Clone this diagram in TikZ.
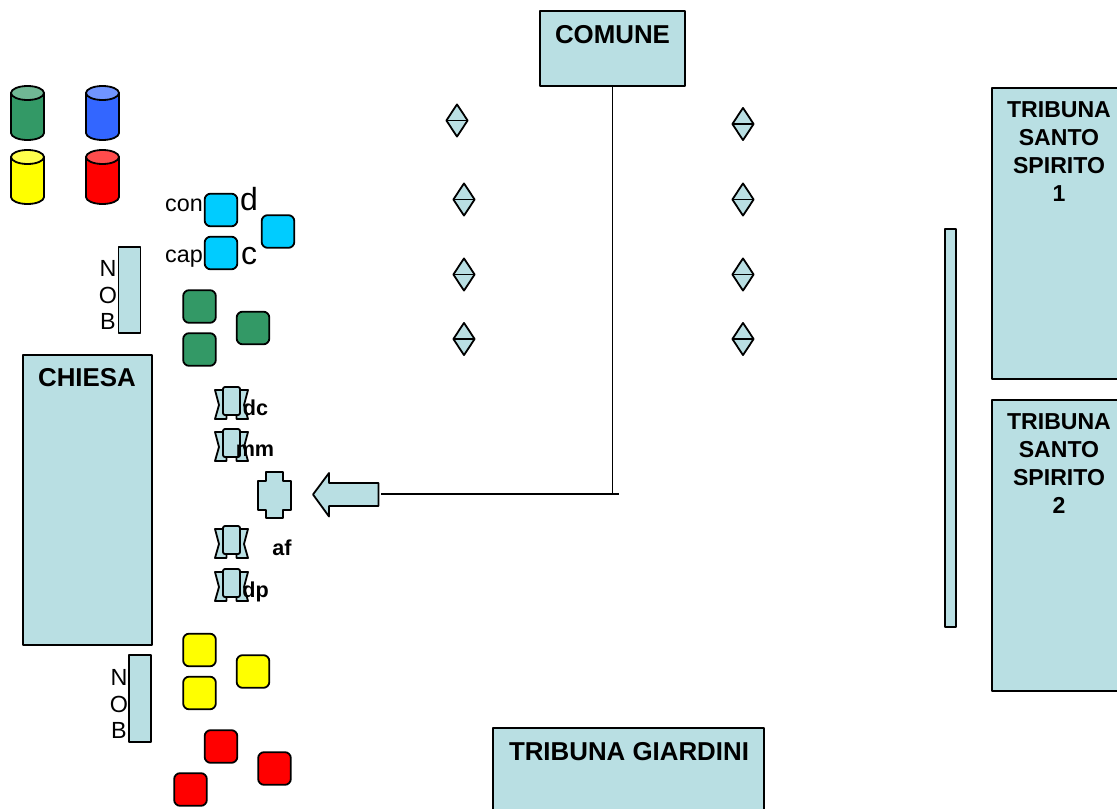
\documentclass[tikz,border=0pt]{standalone}
\usepackage{fontspec}
\setmainfont{Liberation Sans}
\usetikzlibrary{shapes.geometric}
\definecolor{pale}{HTML}{B9DFE3}
\definecolor{mycyan}{HTML}{00CCFF}
\definecolor{mygreen}{HTML}{339966}
\definecolor{myblue}{HTML}{3366FF}
\definecolor{myyellow}{HTML}{FFFF00}
\definecolor{myred}{HTML}{FF0000}
\tikzset{
  drumcolor/.initial=myred,
  outline/.style={draw=black,line width=1.35pt,line join=round},
  plainbox/.style={outline,fill=pale,rectangle,inner sep=0pt},
  seat/.style={outline,rectangle,rounded corners=4.5pt,inner sep=0pt,minimum width=24.5pt,minimum height=24.5pt},
  merge/.style={outline,fill=pale,diamond,inner sep=0pt,minimum width=16.5pt,minimum height=24.7pt,
    path picture={\draw[line width=1.35pt] (path picture bounding box.west) -- (path picture bounding box.east);}},
  connector/.style={draw=black,line width=1.35pt},
  titletext/.style={font=\bfseries\fontsize{19.4}{23}\selectfont,inner sep=0pt},
  tribune/.style={font=\bfseries\fontsize{17.3}{21}\selectfont,inner sep=0pt,align=center,anchor=north},
  marktext/.style={font=\bfseries\fontsize{16.2}{19}\selectfont,inner sep=0pt},
  smalltext/.style={font=\fontsize{17.5}{20}\selectfont,inner sep=0pt},
  bigtext/.style={font=\fontsize{24}{28}\selectfont,inner sep=0pt},
  chair/.pic={
    \path[outline,fill=pale] (-16.5,-15) -- (16.5,-15) -- (12.5,0) -- (16.5,14) -- (5,14) -- (5,10) -- (-5,10) -- (-5,14) -- (-16.5,14) -- (-12.5,0) -- cycle;
    \path[outline,fill=pale,rounded corners=1.5pt] (-8.5,-18) rectangle (8.5,10);
  },
  drum/.pic={
    \path[outline,fill=\pgfkeysvalueof{/tikz/drumcolor}] (-16.5,-20) -- (-16.5,20) arc[start angle=180,end angle=0,x radius=16.5,y radius=7] -- (16.5,-20) -- cycle;
    \path[outline,fill=\pgfkeysvalueof{/tikz/drumcolor}!70!white] (0,-20) ellipse[x radius=16.5,y radius=7];
  },
}
\begin{document}
\begin{tikzpicture}[x=0.75pt,y=-0.75pt]
\useasboundingbox (0,0) rectangle (1117,809);
\clip (0,0) rectangle (1117,809);
% large boxes
\node[plainbox,minimum width=108.75pt,minimum height=56.25pt] (comune) at (612.5,48.5) {};
\node[titletext] (comunet) at (612.5,35) {COMUNE};
\node[plainbox,minimum width=100pt,minimum height=218.25pt] (tss1) at (1058.7,233.5) {};
\node[tribune] (tss1t) at (1059,101) {TRIBUNA\\SANTO\\SPIRITO\\1};
\node[plainbox,minimum width=100pt,minimum height=218.25pt] (tss2) at (1058.7,545.5) {};
\node[tribune] (tss2t) at (1059,413) {TRIBUNA\\SANTO\\SPIRITO\\2};
\node[plainbox,minimum width=203.25pt,minimum height=75pt] (giardini) at (628.5,778) {};
\node[titletext] (giardinit) at (629,752) {TRIBUNA GIARDINI};
\node[plainbox,minimum width=96.75pt,minimum height=217.5pt] (chiesa) at (87.5,500) {};
\node[titletext] (chiesat) at (87,378) {CHIESA};
\node[plainbox,minimum width=8.25pt,minimum height=298.5pt] (bar) at (950.5,428) {};
\node[plainbox,minimum width=16.5pt,minimum height=64.5pt] (nob1) at (129.5,290) {};
\node[plainbox,minimum width=16.5pt,minimum height=65.25pt] (nob2) at (140,698.5) {};
% NOB letters
\node[smalltext] (n1) at (108,268) {N};
\node[smalltext] (o1) at (108,295) {O};
\node[smalltext] (b1) at (108,321) {B};
\node[smalltext] (n2) at (119,677) {N};
\node[smalltext] (o2) at (119,704) {O};
\node[smalltext] (b2) at (119,730) {B};
% cylinders
\begin{scope}[drumcolor=mygreen]\pic at (27.5,113) {drum};\end{scope}
\begin{scope}[drumcolor=myblue]\pic at (102.5,113) {drum};\end{scope}
\begin{scope}[drumcolor=myyellow]\pic at (27.5,177) {drum};\end{scope}
\begin{scope}[drumcolor=myred]\pic at (102.5,177) {drum};\end{scope}
% squares
\node[seat,fill=mycyan] (c1) at (221,210) {};
\node[seat,fill=mycyan] (c2) at (221,253) {};
\node[seat,fill=mycyan] (c3) at (278,231.5) {};
\node[seat,fill=mygreen] (g1) at (199.5,306.5) {};
\node[seat,fill=mygreen] (g2) at (199.5,349.5) {};
\node[seat,fill=mygreen] (g3) at (253,328) {};
\node[seat,fill=myyellow] (y1) at (199.5,650) {};
\node[seat,fill=myyellow] (y2) at (199.5,693) {};
\node[seat,fill=myyellow] (y3) at (253,671.5) {};
\node[seat,fill=myred] (r1) at (221,746.5) {};
\node[seat,fill=myred] (r2) at (274.5,768.5) {};
\node[seat,fill=myred] (r3) at (190.5,789.5) {};
\node[smalltext] (con) at (184,205.5) {con};
\node[smalltext] (cap) at (184,259) {cap};
\node[bigtext] (d) at (249,199) {d};
\node[bigtext] (c) at (249,256) {c};
% diamonds
\foreach \nm/\px/\py in {a/457/120.5,b/464/199.5,e/464/274.5,f/464/339,g/743/124,h/743/199.5,i/743/274.5,j/743/339}
  \node[merge] (m\nm) at (\px,\py) {};
% chairs
\pic at (231.5,405) {chair};
\pic at (231.5,447) {chair};
\pic at (231.5,544) {chair};
\pic at (231.5,587) {chair};
\node[marktext] (dc) at (255.5,408) {dc};
\node[marktext] (mm) at (255,451) {mm};
\node[marktext] (af) at (282,548) {af};
\node[marktext] (dp) at (255.5,592) {dp};
% cross
\path[outline,fill=pale] (266,472) -- (283,472) -- (283,481) -- (291,481) -- (291,510) -- (283,510) -- (283,518) -- (266,518) -- (266,510) -- (258,510) -- (258,481) -- (266,481) -- cycle;
% arrow
\path[outline,fill=pale] (313,494.5) -- (329,473) -- (329,483) -- (378.5,483) -- (378.5,506) -- (329,506) -- (329,516.5) -- cycle;
% connectors
\coordinate (junction) at (comune.south |- 0,494);
\coordinate (lineleft) at (381,494);
\coordinate (lineright) at (618.5,494);
\draw[connector] (comune.south) -- (junction);
\draw[connector] (lineleft) -- (lineright);
\end{tikzpicture}
\end{document}
